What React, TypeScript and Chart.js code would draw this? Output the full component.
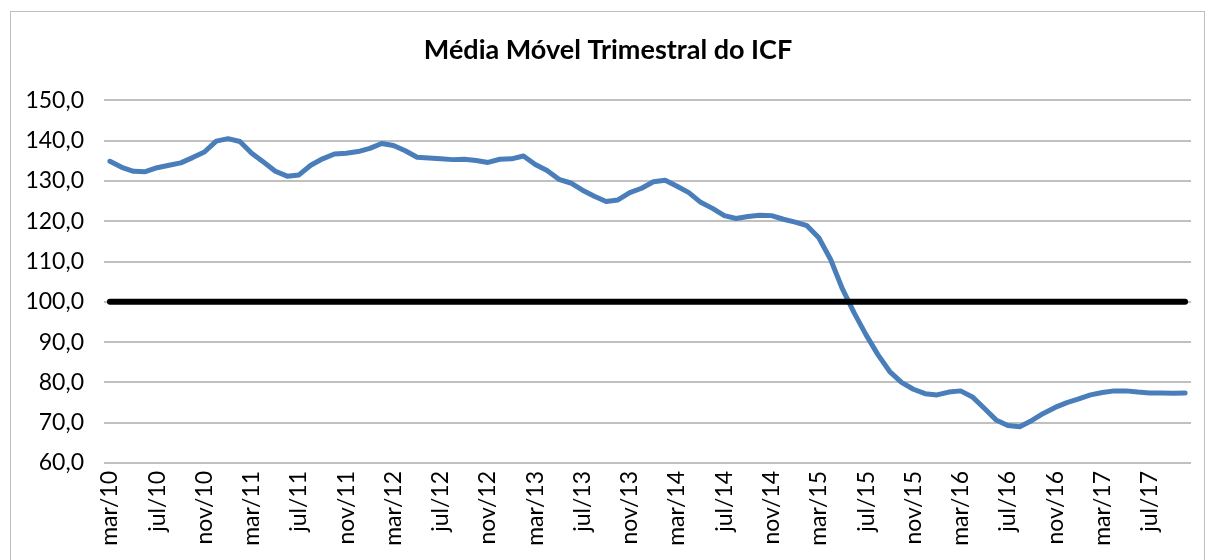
import React, { useEffect, useRef } from 'react';
import { Chart, registerables } from 'chart.js';

Chart.register(...registerables);

const chartTitle = 'Média Móvel Trimestral do ICF';

const months: string[] = [
  'mar/10', 'abr/10', 'mai/10', 'jun/10', 'jul/10', 'ago/10', 'set/10', 'out/10', 'nov/10', 'dez/10',
  'jan/11', 'fev/11', 'mar/11', 'abr/11', 'mai/11', 'jun/11', 'jul/11', 'ago/11', 'set/11', 'out/11', 'nov/11', 'dez/11',
  'jan/12', 'fev/12', 'mar/12', 'abr/12', 'mai/12', 'jun/12', 'jul/12', 'ago/12', 'set/12', 'out/12', 'nov/12', 'dez/12',
  'jan/13', 'fev/13', 'mar/13', 'abr/13', 'mai/13', 'jun/13', 'jul/13', 'ago/13', 'set/13', 'out/13', 'nov/13', 'dez/13',
  'jan/14', 'fev/14', 'mar/14', 'abr/14', 'mai/14', 'jun/14', 'jul/14', 'ago/14', 'set/14', 'out/14', 'nov/14', 'dez/14',
  'jan/15', 'fev/15', 'mar/15', 'abr/15', 'mai/15', 'jun/15', 'jul/15', 'ago/15', 'set/15', 'out/15', 'nov/15', 'dez/15',
  'jan/16', 'fev/16', 'mar/16', 'abr/16', 'mai/16', 'jun/16', 'jul/16', 'ago/16', 'set/16', 'out/16', 'nov/16', 'dez/16',
  'jan/17', 'fev/17', 'mar/17', 'abr/17', 'mai/17', 'jun/17', 'jul/17', 'ago/17', 'set/17', 'out/17',
];

const icfValues: number[] = [
  134.9, 133.4, 132.4, 132.3, 133.3, 133.9, 134.5, 135.8, 137.2, 139.9,
  140.5, 139.8, 136.9, 134.7, 132.4, 131.2, 131.5, 133.9, 135.5, 136.7, 136.9, 137.3,
  138.1, 139.3, 138.8, 137.5, 135.9, 135.7, 135.5, 135.3, 135.4, 135.1, 134.6, 135.4,
  135.5, 136.2, 134.1, 132.6, 130.4, 129.5, 127.7, 126.2, 124.9, 125.3, 127.1, 128.2,
  129.8, 130.2, 128.7, 127.1, 124.7, 123.2, 121.4, 120.7, 121.2, 121.5, 121.4, 120.5,
  119.8, 118.9, 115.9, 110.5, 103.2, 97.2, 91.8, 86.9, 82.7, 80.0, 78.3, 77.2,
  76.9, 77.6, 77.9, 76.4, 73.6, 70.7, 69.3, 69.0, 70.5, 72.3, 73.8, 75.0,
  75.9, 76.9, 77.5, 77.9, 77.9, 77.6, 77.4, 77.4, 77.3, 77.4,
];

const referenceLevel = 100;
const yMin = 60;
const yMax = 150;
const yStep = 10;
const labelEvery = 4;

const FONT = 'Lato, "Open Sans", "Noto Sans", sans-serif';

export default function App() {
  const canvasRef = useRef<HTMLCanvasElement>(null);

  useEffect(() => {
    if (!canvasRef.current) return;
    const chart = new Chart(canvasRef.current, {
      type: 'line',
      data: {
        labels: months,
        datasets: [
          {
            label: 'Referência',
            data: months.map(() => referenceLevel),
            borderColor: '#000000',
            borderWidth: 6,
            pointRadius: 0,
            borderCapStyle: 'round',
            borderJoinStyle: 'round',
            order: 0,
          },
          {
            label: 'ICF',
            data: icfValues,
            borderColor: '#4a7ebb',
            borderWidth: 5,
            pointRadius: 0,
            tension: 0,
            borderCapStyle: 'round',
            borderJoinStyle: 'round',
            order: 1,
          },
        ],
      },
      options: {
        responsive: false,
        animation: false,
        events: [],
        layout: { padding: { left: 8, right: 0, top: 0, bottom: 0 } },
        plugins: {
          legend: { display: false },
          tooltip: { enabled: false },
          title: {
            display: true,
            text: chartTitle,
            color: '#000000',
            font: { family: FONT, size: 27, weight: 'bold' },
            padding: { top: 34, bottom: 34 },
          },
        },
        scales: {
          x: {
            offset: true,
            grid: { display: false },
            border: { display: false },
            ticks: {
              autoSkip: false,
              maxRotation: 90,
              minRotation: 90,
              padding: 0,
              color: '#000000',
              font: { family: FONT, size: 23 },
              callback: (_v: any, i: number) => (i % labelEvery === 0 ? months[i] : ''),
            },
            afterFit: (s: any) => {
              s.height = 97;
              s.paddingLeft = 0;
              s.paddingRight = 17;
            },
          },
          y: {
            min: yMin,
            max: yMax,
            ticks: {
              stepSize: yStep,
              padding: 20,
              color: '#000000',
              font: { family: FONT, size: 23 },
              callback: (v: any) => Number(v).toFixed(1).replace('.', ','),
            },
            grid: { color: '#c0c0c0', lineWidth: 2, drawTicks: false },
            border: { display: false },
            afterFit: (s: any) => {
              s.width = 96;
            },
          },
        },
      },
    } as any);
    return () => chart.destroy();
  }, []);

  return (
    <>
      <div
        style={{
          position: 'absolute',
          left: 10,
          top: 11,
          width: 1195,
          height: 560,
          border: '1px solid #bfbfbf',
          boxSizing: 'border-box',
        }}
      />
      <canvas
        ref={canvasRef}
        width={1208}
        height={560}
        style={{ position: 'absolute', left: 0, top: 0, width: 1208, height: 560 }}
      />
    </>
  );
}
